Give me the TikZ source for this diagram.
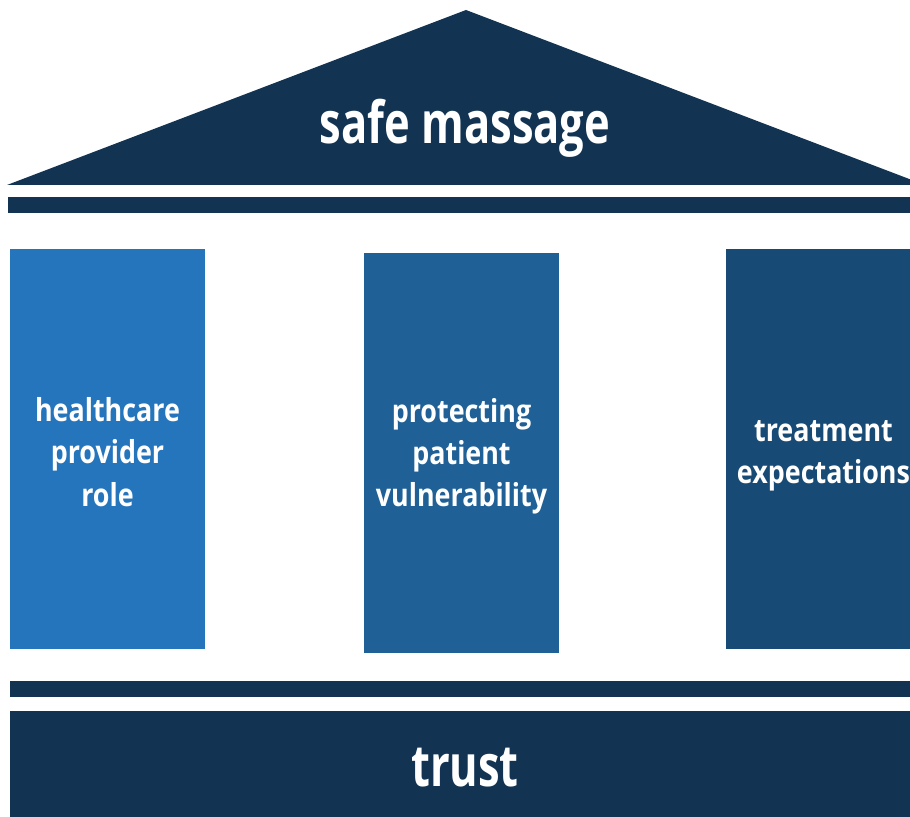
\documentclass[tikz,border=0pt]{standalone}
\usepackage{fontspec}
\setmainfont{Open Sans}[FakeStretch=0.8,BoldFont={* Bold}]
\newfontfamily\titlefont{Open Sans Bold}[FakeStretch=0.75]
\newfontfamily\pillarfont{Open Sans Bold}[FakeStretch=0.85]
\usepackage{xcolor}
\definecolor{navy}{RGB}{18,52,82}
\definecolor{pilA}{RGB}{37,117,189}
\definecolor{pilB}{RGB}{31,96,150}
\definecolor{pilC}{RGB}{23,74,117}

\begin{document}
\begin{tikzpicture}[x=0.02cm,y=-0.02cm]
			\tikzstyle{every node}=[text=white];
			\tikzstyle{pillar}=[rectangle, minimum width=3.9cm, minimum height=8cm, inner sep=0pt];
			\tikzstyle{pillartext}=[align=center, font=\pillarfont\fontsize{18}{24}\selectfont];
			\tikzstyle{slab}=[fill=navy];
			\tikzstyle{title}=[font=\titlefont\fontsize{33}{36}\selectfont];
			
			\useasboundingbox[fill=white] (0, 0) rectangle (910, 817);
			
			%Roof
			\fill[navy] (7, 185) -- (466, 10) -- (925, 185) -- cycle;
			\node[title] (roof) at (465, 128) {safe massage};
			\fill[slab] (8, 197) rectangle (922, 213);
			
			%Pillars
			\node[pillar, fill=pilA] (role) at (107.5, 449) {};
			\node[pillar, fill=pilB] (vuln) at (461.5, 453) {};
			\node[pillar, fill=pilC] (expect) at (823.5, 449) {};
			\node[pillartext] (roletext) at (107.5, 452) {healthcare\\provider\\role};
			\node[pillartext] (vulntext) at (461.5, 456) {protecting\\patient\\vulnerability};
			\node[pillartext] (expecttext) at (823.5, 456) {treatment\\expectations};
			
			%Base
			\fill[slab] (10, 681) rectangle (922, 697);
			\fill[slab] (10, 711) rectangle (922, 830);
			\node[title] (trust) at (465, 768) {trust};
\end{tikzpicture}
\end{document}
